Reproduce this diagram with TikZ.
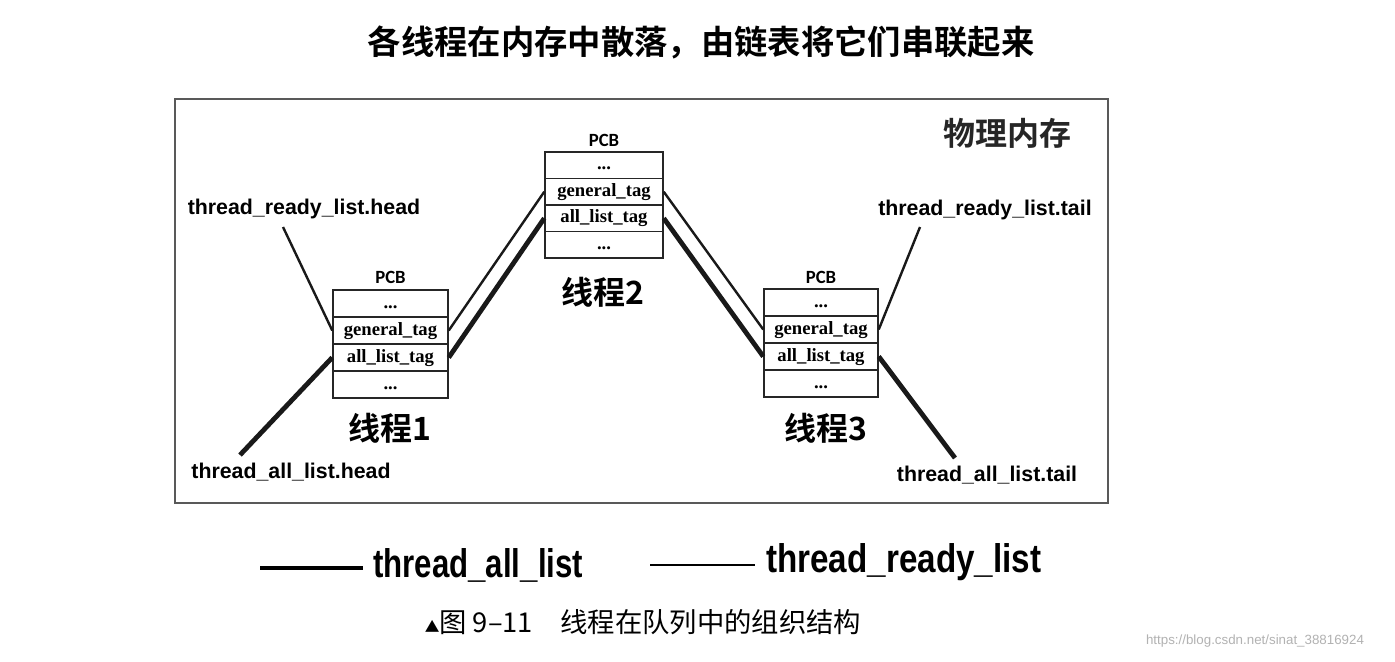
\documentclass[tikz,border=0pt]{standalone}
\usepackage{fontspec}
\usepackage{graphicx}
\setmainfont{Liberation Serif}
\setsansfont{Liberation Sans}
\newfontfamily\cjk{Noto Sans CJK SC}[BoldFont={Noto Sans CJK SC Bold}]
\newfontfamily\pcbfont{Carlito}
\begin{document}
\begin{tikzpicture}[x=0.75pt,y=-0.75pt,
  row/.style={draw=black!85, line width=1.1pt, inner sep=0pt, text height=10pt, text depth=3pt, font=\rmfamily\bfseries\fontsize{14}{16}\selectfont},
  pcb1/.style={row, minimum width=86.25pt, minimum height=20.25pt},
  pcb2/.style={row, minimum width=88.5pt, minimum height=19.9pt},
  pcb3/.style={row, minimum width=85.5pt, minimum height=20.25pt},
  pcblabel/.style={font=\pcbfont\bfseries\fontsize{14}{16}\selectfont, inner sep=0pt},
  thr/.style={font=\cjk\bfseries\fontsize{24}{28}\selectfont, inner sep=0pt},
  lbl/.style={font=\sffamily\bfseries\fontsize{16}{18}\selectfont, inner sep=0pt},
  readylink/.style={line width=1.8pt, black!90},
  alllink/.style={line width=3.6pt, black!90},
  legtxt/.style={font=\sffamily\bfseries\fontsize{30}{34}\selectfont, inner sep=0pt, anchor=west}
]
\useasboundingbox (0,0) rectangle (1395,661);
\fill[white] (0,0) rectangle (1395,661);

% title
\node[font=\cjk\bfseries\fontsize{25}{30}\selectfont, inner sep=0pt] (title) at (701,42) {各线程在内存中散落，由链表将它们串联起来};

% memory frame
\node[draw=black!65, line width=1.2pt, minimum width=699.75pt, minimum height=303pt, inner sep=0pt] (mem) at (641.5,301) {};
\node[font=\cjk\bfseries\fontsize{24}{28}\selectfont, text=black!85, inner sep=0pt] (memlbl) at (1007,133) {物理内存};

% PCB 1
\node[pcblabel] (pcb1t) at (390.5,277) {PCB};
\node[pcb1] (p1a) at (390.5,303.5) {...};
\node[pcb1] (p1g) at (390.5,330.5) {general\_tag};
\node[pcb1] (p1l) at (390.5,357.5) {all\_list\_tag};
\node[pcb1] (p1b) at (390.5,384.5) {...};
\node[thr] (t1) at (390,428) {线程1};

% PCB 2
\node[pcblabel] (pcb2t) at (604,140) {PCB};
\node[pcb2] (p2a) at (604,165.25) {...};
\node[pcb2] (p2g) at (604,191.75) {general\_tag};
\node[pcb2] (p2l) at (604,218.25) {all\_list\_tag};
\node[pcb2] (p2b) at (604,244.75) {...};
\node[thr] (t2) at (603,292) {线程2};

% PCB 3
\node[pcblabel] (pcb3t) at (821,277) {PCB};
\node[pcb3] (p3a) at (821,302.5) {...};
\node[pcb3] (p3g) at (821,329.5) {general\_tag};
\node[pcb3] (p3l) at (821,356.5) {all\_list\_tag};
\node[pcb3] (p3b) at (821,383.5) {...};
\node[thr] (t3) at (826,428) {线程3};

% labels
\node[lbl] (lrh) at (304,209) {thread\_ready\_list.head};
\node[lbl] (lah) at (291,472) {thread\_all\_list.head};
\node[lbl] (lrt) at (985,210) {thread\_ready\_list.tail};
\node[lbl] (lat) at (987,475) {thread\_all\_list.tail};

\coordinate (rh) at (283,227);
\coordinate (ah) at (240,455);
\coordinate (rt) at (920,227);
\coordinate (atl) at (955,458);

% links
\draw[readylink] (rh) -- (p1g.west);
\draw[alllink] (ah) -- (p1l.west);
\draw[readylink] (p1g.east) -- (p2g.west);
\draw[alllink] (p1l.east) -- (p2l.west);
\draw[readylink] (p2g.east) -- (p3g.west);
\draw[alllink] (p2l.east) -- (p3l.west);
\draw[readylink] (rt) -- (p3g.east);
\draw[alllink] (atl) -- (p3l.east);

% legend
\coordinate (la1) at (260,568);
\coordinate (la2) at (363,568);
\coordinate (lr1) at (650,565);
\coordinate (lr2) at (755,565);
\draw[line width=3pt] (la1) -- (la2);
\draw[line width=1.8pt] (lr1) -- (lr2);
\node[legtxt] (legall) at (373,565) {\scalebox{0.78}[1]{thread\_all\_list}};
\node[legtxt] (legready) at (766,562) {\scalebox{0.83}[1]{thread\_ready\_list}};

% caption
\node[font=\cjk\fontsize{20.5}{23}\selectfont, inner sep=0pt] (cap) at (643,622) {{\fontsize{11}{12}\selectfont ▲}图 9–11\hspace{1em}线程在队列中的组织结构};

% watermark
\node[font=\sffamily\fontsize{10}{12}\selectfont, text=black!30, inner sep=0pt] (wm) at (1255,641) {https://blog.csdn.net/sinat\_38816924};
\end{tikzpicture}
\end{document}
